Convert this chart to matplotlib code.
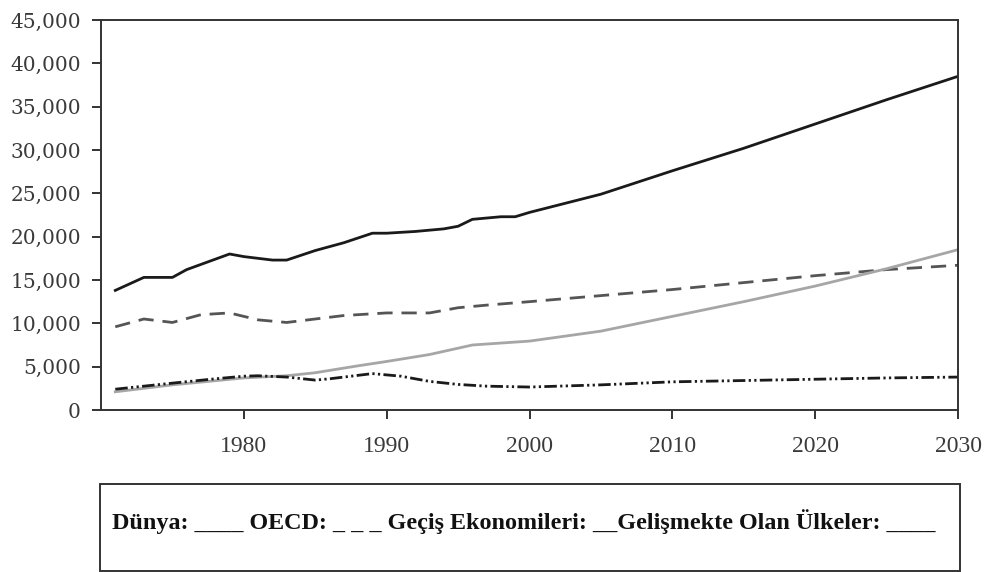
import matplotlib
matplotlib.use("Agg")
import matplotlib.pyplot as plt
from matplotlib.patches import Rectangle

# veriler (grafikten okunan yaklaşık değerler)
dunya_yil = [1971, 1973, 1975, 1976, 1978, 1979, 1980, 1982, 1983, 1985, 1987, 1989, 1990,
             1992, 1994, 1995, 1996, 1998, 1999, 2000, 2005, 2010, 2015, 2020, 2025, 2030]
dunya = [13800, 15300, 15300, 16200, 17400, 18000, 17700, 17300, 17300, 18400, 19300, 20400, 20400,
         20600, 20900, 21200, 22000, 22300, 22300, 22800, 24900, 27600, 30200, 33000, 35800, 38500]

oecd_yil = [1971, 1973, 1975, 1977, 1979, 1981, 1983, 1985, 1987, 1990, 1993, 1995, 1997,
            2000, 2005, 2010, 2015, 2020, 2025, 2030]
oecd = [9600, 10500, 10100, 11000, 11200, 10400, 10100, 10500, 10900, 11200, 11200, 11800, 12100,
        12500, 13200, 13900, 14700, 15500, 16200, 16700]

gecis_yil = [1971, 1975, 1978, 1980, 1981, 1983, 1985, 1986, 1989, 1991, 1993, 1995, 1997,
             2000, 2005, 2010, 2015, 2020, 2025, 2030]
gecis = [2400, 3100, 3600, 3900, 3950, 3800, 3450, 3600, 4200, 3900, 3300, 2950, 2750,
         2650, 2900, 3250, 3400, 3550, 3700, 3800]

gelismekte_yil = [1971, 1975, 1980, 1983, 1985, 1988, 1990, 1993, 1996, 2000, 2005, 2010,
                  2015, 2020, 2025, 2030]
gelismekte = [2100, 2900, 3700, 3950, 4300, 5100, 5600, 6400, 7500, 7950, 9100, 10800,
              12500, 14300, 16300, 18500]

x_ticks = [1980, 1990, 2000, 2010, 2020, 2030]
y_ticks = list(range(0, 45001, 5000))
legend_text = "Dünya: ____ OECD: _ _ _ Geçiş Ekonomileri: __Gelişmekte Olan Ülkeler: ____"

W, H = 990, 572
fig = plt.figure(figsize=(W / 100, H / 100), dpi=100)
ax = fig.add_axes([101 / W, 1 - 410 / H, (958 - 101) / W, (410 - 20) / H])

lw = 2.0
ax.plot(dunya_yil, dunya, color="#1a1a1a", lw=lw)
ax.plot(oecd_yil, oecd, color="#555555", lw=lw, linestyle=(0, (5.5, 3.2)))
ax.plot(gelismekte_yil, gelismekte, color="#a6a6a6", lw=lw)
ax.plot(gecis_yil, gecis, color="#1a1a1a", lw=lw,
        linestyle=(0, (4.5, 1.2, 0.8, 1.2, 0.8, 1.2)))

ax.set_xlim(1970, 2030)
ax.set_ylim(0, 45000)
ax.set_xticks(x_ticks)
ax.set_yticks(y_ticks)
ax.set_yticklabels([f"{v:,}" for v in y_ticks], fontfamily="DejaVu Serif", fontsize=14.5,
                   color="#3a3a3a")
ax.set_xticklabels([str(v) for v in x_ticks], fontfamily="Liberation Serif", fontsize=17,
                   color="#3a3a3a")
for s in ax.spines.values():
    s.set_color("#333333")
    s.set_linewidth(1.4)
ax.tick_params(axis="both", direction="out", length=6.5, width=1.4, color="#333333")
ax.tick_params(axis="x", pad=12)
ax.tick_params(axis="y", pad=8)

# açıklama kutusu
fig.patches.append(Rectangle((100 / W, 1 - 571 / H), (960 - 100) / W, (571 - 484) / H,
                             transform=fig.transFigure, fill=False, edgecolor="#333333",
                             linewidth=1.4))
fig.text(112 / W, 1 - 529 / H, legend_text, fontfamily="Liberation Serif", fontweight="bold",
         fontsize=17.4, va="baseline", ha="left", color="#111111")

fig.savefig("out.png", dpi=100)
